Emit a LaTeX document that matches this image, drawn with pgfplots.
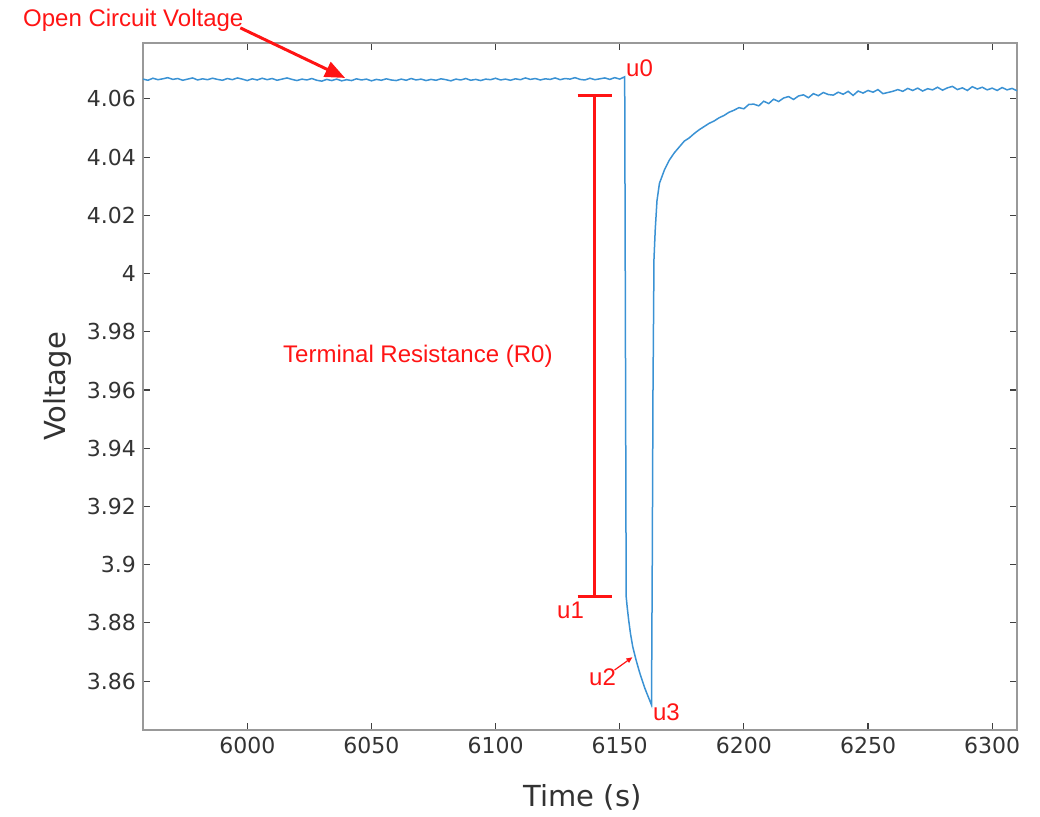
\documentclass[border=0pt]{standalone}
\usepackage{fontspec}
\setmainfont{DejaVu Sans}
\newfontfamily\arial{Liberation Sans}
\usepackage{pgfplots}
\pgfplotsset{compat=1.18}
\usetikzlibrary{arrows.meta}
\definecolor{mblue}{RGB}{58,146,212}
\definecolor{annred}{RGB}{255,20,20}
\definecolor{txtgray}{RGB}{51,51,51}
\begin{document}
\begin{tikzpicture}
\begin{axis}[
  scale only axis, width=437pt, height=343.5pt,
  xmin=5958, xmax=6310, ymin=3.8432, ymax=4.0792,
  xtick={6000,6050,...,6300},
  ytick={3.86,3.88,3.90,3.92,3.94,3.96,3.98,4.00,4.02,4.04,4.06},
  /pgf/number format/1000 sep={},
  /pgf/number format/assume math mode=true,
  tick label style={font=\fontsize{11}{13}\selectfont, text=txtgray},
  label style={font=\fontsize{14.5}{17}\selectfont, text=txtgray},
  xlabel={Time (s)}, ylabel={Voltage},
  xlabel style={at={(axis description cs:0.503,-0.0975)}, anchor=center},
  ylabel style={at={(axis description cs:-0.098,0.5)}, anchor=center},
  axis line style={draw=black!40, line width=1.3pt},
  tick style={draw=black!75, line width=0.6pt},
  major tick length=3.5pt,
  tick pos=both, tick align=inside,
  clip=false,
]
\addplot[mblue, line width=0.75pt] coordinates {
(5958,4.0668) (5960,4.0664) (5962,4.0671) (5964,4.0666) (5966,4.0669) (5968,4.0673)
(5970,4.0667) (5972,4.0670) (5974,4.0664) (5976,4.0668) (5978,4.0672) (5980,4.0665)
(5982,4.0669) (5984,4.0666) (5986,4.0671) (5988,4.0667) (5990,4.0664) (5992,4.0670)
(5994,4.0666) (5996,4.0672) (5998,4.0668) (6000,4.0663) (6002,4.0669) (6004,4.0665)
(6006,4.0671) (6008,4.0666) (6010,4.0670) (6012,4.0664) (6014,4.0668) (6016,4.0672)
(6018,4.0667) (6020,4.0663) (6022,4.0668) (6024,4.0665) (6026,4.0670) (6028,4.0664)
(6030,4.0661) (6032,4.0667) (6034,4.0663) (6036,4.0668) (6038,4.0662) (6040,4.0666)
(6042,4.0663) (6044,4.0669) (6046,4.0665) (6048,4.0668) (6050,4.0662) (6052,4.0667)
(6054,4.0664) (6056,4.0669) (6058,4.0665) (6060,4.0663) (6062,4.0668) (6064,4.0664)
(6066,4.0670) (6068,4.0665) (6070,4.0668) (6072,4.0663) (6074,4.0667) (6076,4.0664)
(6078,4.0669) (6080,4.0666) (6082,4.0662) (6084,4.0668) (6086,4.0665) (6088,4.0670)
(6090,4.0664) (6092,4.0667) (6094,4.0663) (6096,4.0668) (6098,4.0666) (6100,4.0671)
(6102,4.0665) (6104,4.0668) (6106,4.0664) (6108,4.0669) (6110,4.0666) (6112,4.0672)
(6114,4.0667) (6116,4.0670) (6118,4.0665) (6120,4.0669) (6122,4.0667) (6124,4.0672)
(6126,4.0666) (6128,4.0670) (6130,4.0668) (6132,4.0673) (6134,4.0667) (6136,4.0665)
(6138,4.0671) (6140,4.0666) (6142,4.0669) (6144,4.0672) (6146,4.0667) (6148,4.0673)
(6150,4.0668) (6152,4.0676)
(6152.6,3.8890) (6153,3.8855) (6153.6,3.8810) (6154.3,3.8765) (6155.2,3.8720)
(6156.5,3.8675) (6158,3.8630) (6160,3.8578) (6162.8,3.8518)
(6163.1,3.9000) (6163.4,3.9600) (6163.8,4.0050) (6164.3,4.0150) (6165,4.0250)
(6166,4.0310) (6168,4.0356) (6170,4.0390) (6172,4.0415) (6174,4.0435)
(6176,4.0455) (6178,4.0466) (6180,4.0481) (6182,4.0494) (6184,4.0505) (6186,4.0516)
(6188,4.0524) (6190,4.0535) (6192,4.0543) (6194,4.0554) (6196,4.0561) (6198,4.0570)
(6200,4.0566) (6202,4.0581) (6204,4.0582) (6206,4.0576) (6208,4.0592) (6210,4.0584)
(6212,4.0599) (6214,4.0591) (6216,4.0603) (6218,4.0608) (6220,4.0598) (6222,4.0610)
(6224,4.0614) (6226,4.0604) (6228,4.0618) (6230,4.0611) (6232,4.0622) (6234,4.0615)
(6236,4.0613) (6238,4.0623) (6240,4.0616) (6242,4.0626) (6244,4.0612) (6246,4.0627)
(6248,4.0620) (6250,4.0629) (6252,4.0623) (6254,4.0632) (6256,4.0618) (6258,4.0622)
(6260,4.0626) (6262,4.0632) (6264,4.0626) (6266,4.0636) (6268,4.0629) (6270,4.0637)
(6272,4.0627) (6274,4.0635) (6276,4.0631) (6278,4.0640) (6280,4.0630) (6282,4.0638)
(6284,4.0643) (6286,4.0632) (6288,4.0638) (6290,4.0629) (6292,4.0642) (6294,4.0634)
(6296,4.0640) (6298,4.0631) (6300,4.0637) (6302,4.0629) (6304,4.0639) (6306,4.0631)
(6308,4.0636) (6310,4.0628)
};
% annotations
\draw[annred, line width=1.5pt] (axis cs:6139.9,4.061) -- (axis cs:6139.9,3.889);
\draw[annred, line width=1.5pt] (axis cs:6133,4.061) -- (axis cs:6146.7,4.061);
\draw[annred, line width=1.5pt] (axis cs:6133,3.889) -- (axis cs:6146.7,3.889);
\draw[annred, line width=1.5pt, -{Triangle[length=10pt,width=8pt]}]
  (axis cs:5997.2,4.0844) -- (axis cs:6039.4,4.0672);
\draw[annred, line width=0.6pt, -{Triangle[length=3pt,width=2.5pt]}]
  (axis cs:6147.9,3.8638) -- (axis cs:6155.1,3.8682);
\node[anchor=west, text=annred, font=\arial\fontsize{12}{14}\selectfont, inner sep=0pt]
  at (axis cs:5909.6,4.0871) {Open Circuit Voltage};
\node[text=annred, font=\arial\fontsize{12}{14}\selectfont]
  at (axis cs:6068.7,3.9717) {Terminal Resistance (R0)};
\node[text=annred, font=\arial\fontsize{12}{14}\selectfont] at (axis cs:6158,4.0706) {u0};
\node[text=annred, font=\arial\fontsize{12}{14}\selectfont] at (axis cs:6130.2,3.8844) {u1};
\node[text=annred, font=\arial\fontsize{12}{14}\selectfont] at (axis cs:6143.1,3.8614) {u2};
\node[text=annred, font=\arial\fontsize{12}{14}\selectfont] at (axis cs:6168.8,3.8493) {u3};
\path (rel axis cs:-0.1636,-0.1223) rectangle (rel axis cs:1.0263,1.0626);
\end{axis}
\end{tikzpicture}
\end{document}
